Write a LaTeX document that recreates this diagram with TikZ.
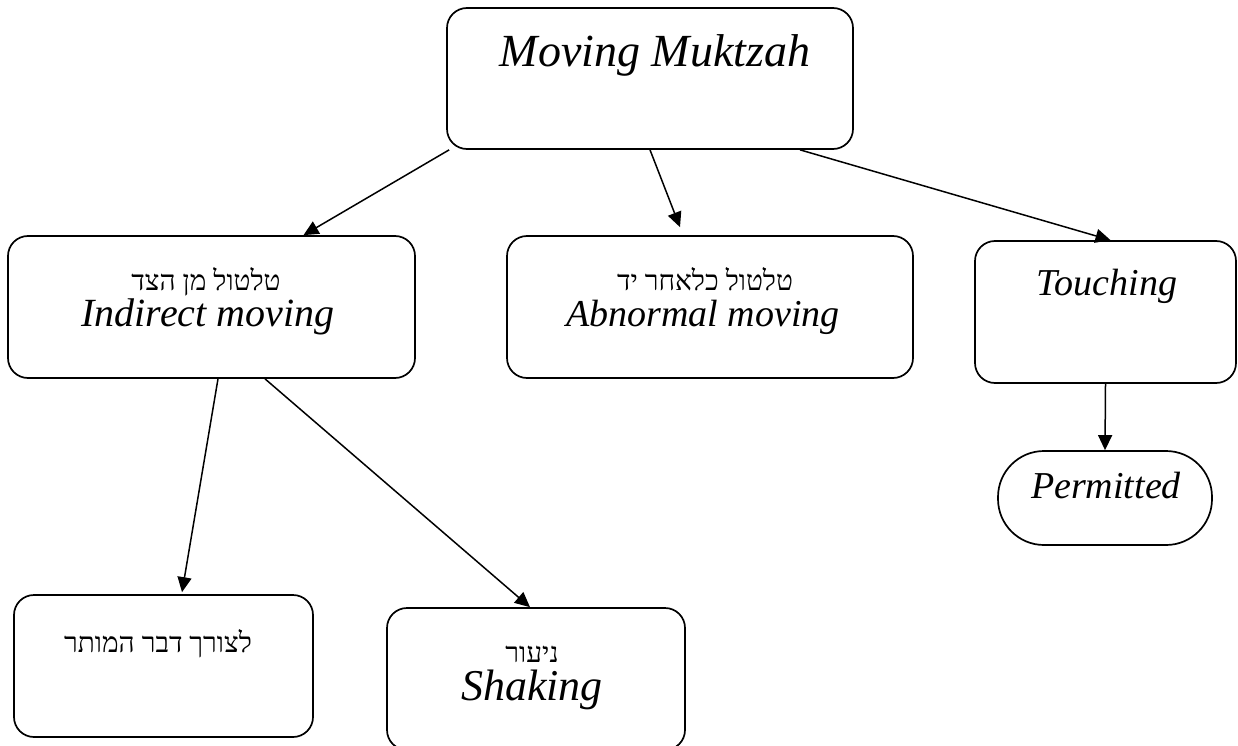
\documentclass[tikz,border=0pt]{standalone}
\usepackage{fontspec}
\setmainfont{Liberation Serif}
\newfontfamily\hebfont[Script=Hebrew]{Liberation Serif}
\usetikzlibrary{arrows.meta}
\TeXXeTstate=1

\newcommand{\heb}[1]{{\hebfont\fontsize{28}{30}\selectfont\beginR #1\endR}}
\newcommand{\eng}[2][38]{{\itshape\fontsize{#1}{#1}\selectfont #2}}

\begin{document}
\begin{tikzpicture}[x=1pt,y=-1pt,
    box/.style={draw,line width=1.7pt,rounded corners=20pt,inner sep=0pt},
    txt/.style={anchor=base,inner sep=0pt},
    arr/.style={line width=1.5pt,-{Triangle[length=15pt,width=14pt]}}]
        \useasboundingbox (0,0) rectangle (1238,746);

        \node[box,minimum width=406pt,minimum height=141pt] (M) at (650,78.5) {};
        \node[box,minimum width=407pt,minimum height=142pt] (I) at (211.5,307) {};
        \node[box,minimum width=406pt,minimum height=142pt] (A) at (710,307) {};
        \node[box,minimum width=261pt,minimum height=142pt] (T) at (1105.5,312) {};
        \node[box,rounded corners=46pt,minimum width=214pt,minimum height=94pt] (P) at (1105,498) {};
        \node[box,minimum width=299pt,minimum height=142pt] (L) at (163.5,666) {};
        \node[box,minimum width=298pt,minimum height=142pt] (N) at (536,679) {};

        \node[txt] (Mt) at (655,67) {\eng[46]{Moving Muktzah}};
        \node[txt] (Ih) at (206,290) {\heb{טלטול מן הצד}};
        \node[txt] (Ie) at (208,326) {\eng[40]{Indirect moving}};
        \node[txt] (Ah) at (705,290) {\heb{טלטול כלאחר יד}};
        \node[txt] (Ae) at (703,326) {\eng{Abnormal moving}};
        \node[txt] (Tt) at (1107,295) {\eng{Touching}};
        \node[txt] (Pt) at (1106,498) {\eng{Permitted}};
        \node[txt] (Lh) at (158,652) {\heb{לצורך דבר המותר}};
        \node[txt] (Nh) at (532,662) {\heb{ניעור}};
        \node[txt] (Ne) at (532,700) {\eng[44]{Shaking}};

        \draw[arr] ([xshift=3pt]M.south west) -- ([xshift=92pt]I.north);
        \draw[arr] (M.south) -- ([xshift=-30pt,yshift=8pt]A.north);
        \draw[arr] ([xshift=150pt]M.south) -- ([xshift=5pt]T.north);
        \draw[arr] ([xshift=6.5pt]I.south) -- ([xshift=18.5pt,yshift=2pt]L.north);
        \draw[arr] ([xshift=53.5pt]I.south) -- ([xshift=-6pt]N.north);
        \draw[arr] (T.south) -- (P.north);
    \end{tikzpicture}
\end{document}
